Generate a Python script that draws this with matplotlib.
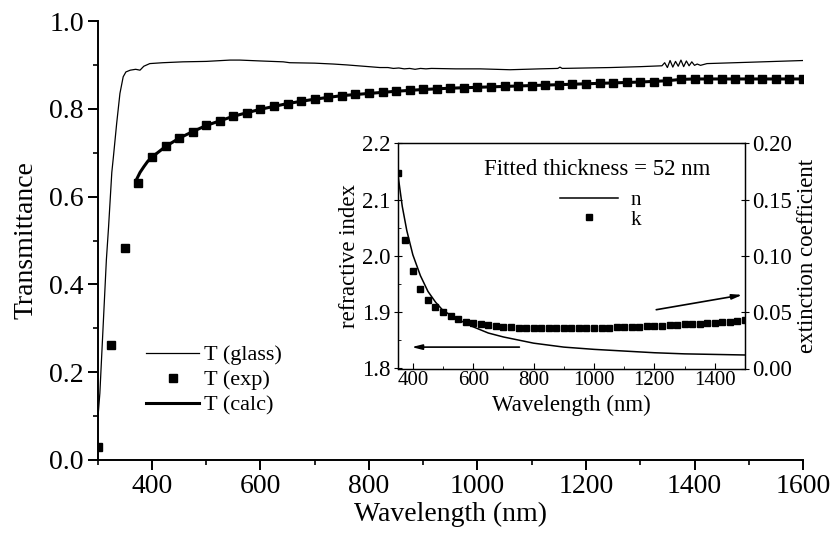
import matplotlib
matplotlib.use("Agg")
import matplotlib.pyplot as plt
from matplotlib.ticker import MultipleLocator

plt.rcParams['font.family'] = ['Liberation Serif', 'DejaVu Serif']

# ===== DATA =====
# glass substrate transmittance
glass_wl = [300, 304, 310, 316, 320, 326, 329, 335, 341, 347, 352, 360, 370, 378,
            385, 396, 420, 457, 500, 544, 562, 600, 642, 654, 700, 734, 759, 800,
            820, 835, 845, 855, 865, 875, 885, 895, 905, 915, 960, 1005, 1060, 1115,
            1148, 1152, 1156, 1200, 1245, 1300, 1340, 1345, 1350, 1355, 1360, 1365,
            1370, 1375, 1380, 1385, 1390, 1395, 1400, 1405, 1411, 1423, 1500, 1550, 1600]
glass_T = [0.090, 0.152, 0.304, 0.456, 0.530, 0.655, 0.691, 0.767, 0.835, 0.873,
           0.884, 0.888, 0.890, 0.888, 0.897, 0.903, 0.905, 0.907, 0.908, 0.911,
           0.911, 0.909, 0.907, 0.905, 0.904, 0.902, 0.900, 0.896, 0.894, 0.894,
           0.892, 0.893, 0.891, 0.892, 0.890, 0.892, 0.891, 0.892, 0.891, 0.891,
           0.889, 0.891, 0.892, 0.895, 0.892, 0.893, 0.894, 0.896, 0.898, 0.905,
           0.894, 0.910, 0.895, 0.908, 0.897, 0.911, 0.896, 0.909, 0.898, 0.907,
           0.899, 0.902, 0.899, 0.903, 0.906, 0.908, 0.910]

# measured film transmittance (every 25 nm)
exp_wl = list(range(300, 1601, 25))
exp_T = [0.030, 0.262, 0.484, 0.630, 0.691, 0.715, 0.734, 0.748, 0.762, 0.773,
         0.783, 0.791, 0.799, 0.806, 0.812, 0.818, 0.822, 0.826, 0.830, 0.833,
         0.835, 0.838, 0.840, 0.842, 0.844, 0.845, 0.847, 0.848, 0.849, 0.850,
         0.851, 0.852, 0.853, 0.854, 0.855, 0.856, 0.857, 0.858, 0.859, 0.860,
         0.861, 0.862, 0.864, 0.867, 0.868, 0.868, 0.868, 0.868, 0.868, 0.868,
         0.868, 0.868, 0.868]

# calculated transmittance
calc_wl = [372, 378, 385, 392, 400, 425, 450, 475, 500, 550, 600, 650, 700, 750,
           800, 850, 900, 950, 1000, 1100, 1200, 1300, 1350, 1375, 1400, 1500, 1600]
calc_T = [0.640, 0.655, 0.668, 0.680, 0.690, 0.714, 0.733, 0.748, 0.762, 0.783,
          0.799, 0.812, 0.822, 0.830, 0.835, 0.840, 0.844, 0.847, 0.849, 0.853,
          0.857, 0.861, 0.864, 0.867, 0.868, 0.868, 0.868]

# inset: refractive index n
n_wl = [350, 365, 380, 400, 425, 450, 475, 500, 550, 600, 650, 700, 800, 900,
        1000, 1100, 1200, 1300, 1400, 1500]
n_val = [2.147, 2.088, 2.045, 2.002, 1.965, 1.937, 1.918, 1.903, 1.887, 1.874,
         1.863, 1.856, 1.845, 1.838, 1.834, 1.831, 1.828, 1.826, 1.825, 1.824]

# inset: extinction coefficient k (every 25 nm)
k_wl = list(range(350, 1501, 25))
k_val = [0.1735, 0.1144, 0.0870, 0.0708, 0.0610, 0.0545, 0.0504, 0.0465, 0.0436,
         0.0416, 0.0404, 0.0395, 0.0385, 0.0377, 0.0371, 0.0367, 0.0364, 0.0362,
         0.0360, 0.0359, 0.0358, 0.0358, 0.0358, 0.0358, 0.0358, 0.0359, 0.0360,
         0.0361, 0.0363, 0.0365, 0.0367, 0.0369, 0.0372, 0.0375, 0.0378, 0.0381,
         0.0384, 0.0387, 0.0391, 0.0395, 0.0399, 0.0403, 0.0407, 0.0412, 0.0417,
         0.0423, 0.0430]


# ===== FIGURE =====
fig = plt.figure(figsize=(8.30, 5.36), dpi=100)
ax = fig.add_axes([0.1177, 0.1418, 0.8498, 0.8190])

ax.plot(glass_wl, glass_T, color="black", lw=0.9, label="T (glass)")
ax.plot(exp_wl, exp_T, ls="none", marker="s", ms=6.3, color="black", label="T (exp)")
ax.plot(calc_wl, calc_T, color="black", lw=2.2, label="T (calc)")

ax.set_xlim(300, 1600)
ax.set_ylim(0.0, 1.0)
ax.xaxis.set_major_locator(MultipleLocator(200))
ax.xaxis.set_minor_locator(MultipleLocator(100))
ax.yaxis.set_major_locator(MultipleLocator(0.2))
ax.yaxis.set_minor_locator(MultipleLocator(0.1))
ax.yaxis.set_major_formatter(matplotlib.ticker.FormatStrFormatter("%.1f"))
ax.spines["top"].set_visible(False)
ax.spines["right"].set_visible(False)
for s in ("left", "bottom"):
    ax.spines[s].set_linewidth(1.4)
ax.tick_params(which="major", direction="out", length=7, width=1.4, labelsize=20, pad=3)
ax.tick_params(which="minor", direction="out", length=3.5, width=1.2)
ax.set_xlabel("Wavelength (nm)", fontsize=20, labelpad=2)
ax.set_ylabel("Transmittance", fontsize=20, labelpad=8)

ax.legend(loc="center left", bbox_to_anchor=(146 / 830, 1 - 380 / 536),
          bbox_transform=fig.transFigure, frameon=False, fontsize=16,
          handlelength=2.4, handletextpad=0.2, labelspacing=0.2,
          borderpad=0, borderaxespad=0)

# ===== INSET =====
ins = fig.add_axes([0.4792, 0.3125, 0.4184, 0.4201])
ln, = ins.plot(n_wl, n_val, color="black", lw=1.1, label="n")
ins.set_xlim(350, 1500)
ins.set_ylim(1.8, 2.2)
ins.xaxis.set_major_locator(MultipleLocator(200))
ins.xaxis.set_minor_locator(MultipleLocator(100))
ins.yaxis.set_major_locator(MultipleLocator(0.1))
ins.yaxis.set_minor_locator(MultipleLocator(0.05))
ins.yaxis.set_major_formatter(matplotlib.ticker.FormatStrFormatter("%.1f"))
ins.tick_params(axis="x", which="major", direction="in", length=4, labelsize=15, pad=2)
ins.tick_params(axis="x", which="minor", direction="in", length=2.5)
ins.tick_params(axis="y", which="major", direction="inout", length=6, labelsize=16.5, pad=2)
ins.tick_params(axis="y", which="minor", direction="in", length=2.5)
ins.set_xlabel("Wavelength (nm)", fontsize=16.5, labelpad=3)
ins.set_ylabel("refractive index", fontsize=16.5, labelpad=2)

ins2 = ins.twinx()
sq, = ins2.plot(k_wl, k_val, ls="none", marker="s", ms=4, color="black", label="k")
ins2.set_ylim(0.0, 0.20)
ins2.yaxis.set_major_locator(MultipleLocator(0.05))
ins2.yaxis.set_major_formatter(matplotlib.ticker.FormatStrFormatter("%.2f"))
ins2.tick_params(axis="y", which="major", direction="inout", length=6, labelsize=16.5, pad=2)
ins2.set_ylabel("extinction coefficient", fontsize=16.5, labelpad=4)
for a in (ins, ins2):
    for s in a.spines.values():
        s.set_linewidth(0.9)

ins.text(1012, 2.153, "Fitted thickness = 52 nm", fontsize=16.5, ha="center", va="center")

ins.annotate("", xy=(387, 1.838), xytext=(762, 1.838),
             arrowprops=dict(arrowstyle="-|>,head_length=0.6,head_width=0.15",
                             color="black", lw=1.2))
ins2.annotate("", xy=(1500, 0.0658), xytext=(1197, 0.0518),
              arrowprops=dict(arrowstyle="-|>,head_length=0.6,head_width=0.15",
                              color="black", lw=1.2))

ins2.legend([ln, sq], ["n", "k"], loc="center left",
            bbox_to_anchor=(560 / 830, 1 - 210 / 536), bbox_transform=fig.transFigure,
            frameon=False, fontsize=15, handlelength=2.8, handletextpad=0.6,
            labelspacing=0.0, borderpad=0, borderaxespad=0)

fig.savefig("out.png", dpi=100)
